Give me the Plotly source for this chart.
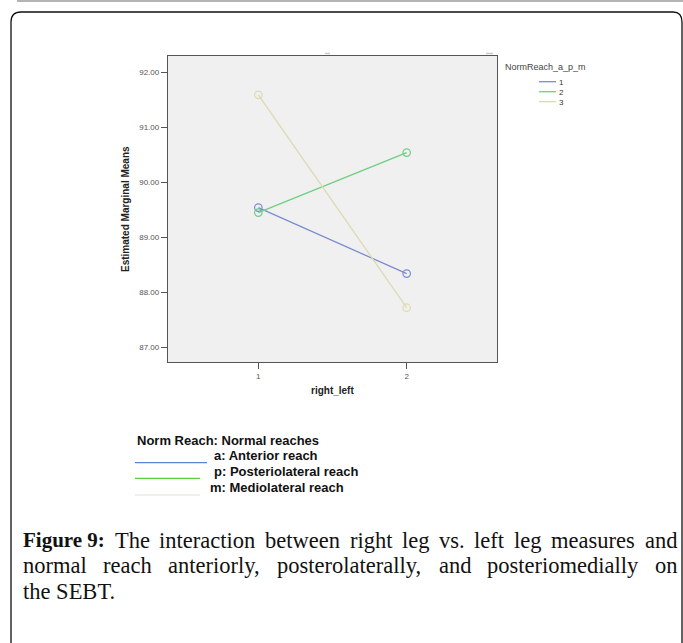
import plotly.graph_objects as go

# ---- data ----
x_levels = [1, 2]
series_names = ["1", "2", "3"]
series_values = [
    [89.54, 88.34],   # 1: anterior
    [89.45, 90.54],   # 2: posterolateral
    [91.59, 87.72],   # 3: mediolateral
]
series_colors = ["#7d8bcf", "#6fcf80", "#dedab2"]
y_ticks = [87, 88, 89, 90, 91, 92]
x_ticks = [1, 2]
legend_title = "NormReach_a_p_m"
note_title = "Norm Reach: Normal reaches"
note_items = ["a: Anterior reach", "p: Posteriolateral reach", "m: Mediolateral reach"]
note_colors = ["#5b84d8", "#5ccf3c", "#e4e0d2"]
caption_label = "Figure 9:"
caption_line1 = "The interaction between right leg vs. left leg measures and"
caption_line2 = "normal reach anteriorly, posterolaterally, and posteriomedially on"
caption_line3 = "the SEBT."

W, H = 683, 643
L, R, T, B = 168, 497, 56, 362  # plot area in px


def px(x):
    return (x - L) / (R - L)


def py(y):
    return (B - y) / (B - T)


# Times/Liberation Serif advance widths (per em) for justification
TIMES_R = {' ': .25, 'a': .444, 'b': .5, 'c': .444, 'd': .5, 'e': .444, 'f': .333, 'g': .5,
           'h': .5, 'i': .278, 'l': .278, 'm': .778, 'n': .5, 'o': .5, 'p': .5, 'r': .333,
           's': .389, 't': .278, 'u': .5, 'v': .5, 'w': .722, 'x': .5, 'y': .5, 'T': .611,
           ',': .25, '.': .25, ':': .278, '9': .5, 'S': .556, 'E': .611, 'B': .667}
TIMES_B = {' ': .25, 'F': .611, 'i': .278, 'g': .5, 'u': .556, 'r': .444, 'e': .444,
           '9': .5, ':': .333}


def text_w(s, size, table):
    return sum(table.get(c, .5) for c in s) * size


fig = go.Figure()
for name, vals, col in zip(series_names, series_values, series_colors):
    fig.add_trace(go.Scatter(
        x=x_levels, y=vals, mode="lines+markers", name=name,
        line=dict(color=col, width=1.3),
        marker=dict(symbol="circle-open", size=7.5, color=col, line=dict(width=1.2)),
        showlegend=False,
    ))

shapes = []
annotations = []

# page decoration: grey rule and rounded box
shapes.append(dict(type="line", xref="paper", yref="paper",
                   x0=px(17), x1=px(683), y0=py(1), y1=py(1),
                   line=dict(color="#b4b4b4", width=2)))
box_path = (f"M {px(11)},{py(660)} L {px(11)},{py(22)} "
            f"Q {px(11)},{py(12)} {px(21)},{py(12)} "
            f"L {px(673)},{py(12)} Q {px(682)},{py(12)} {px(682)},{py(22)} "
            f"L {px(682)},{py(660)}")
shapes.append(dict(type="path", xref="paper", yref="paper", path=box_path,
                   line=dict(color="#111111", width=1.3)))

# small artefacts above the plot frame
for x0, x1 in [(325, 330), (486, 493)]:
    shapes.append(dict(type="line", xref="paper", yref="paper",
                       x0=px(x0), x1=px(x1), y0=py(53.5), y1=py(53.5),
                       line=dict(color="#c8c8c8", width=1.5)))

# upper-right legend
annotations.append(dict(text=legend_title, xref="paper", yref="paper",
                        x=px(503), y=py(66.5), xanchor="left", yanchor="middle",
                        showarrow=False, font=dict(size=9, color="#444444",
                                                   family="Liberation Sans")))
for i, (name, col) in enumerate(zip(series_names, series_colors)):
    yy = 81.7 + i * 10
    shapes.append(dict(type="line", xref="paper", yref="paper",
                       x0=px(539), x1=px(556), y0=py(yy), y1=py(yy),
                       line=dict(color=col, width=1.3)))
    annotations.append(dict(text=name, xref="paper", yref="paper",
                            x=px(556.5), y=py(yy + 0.5), xanchor="left", yanchor="middle",
                            showarrow=False, font=dict(size=8, color="#333333",
                                                       family="Liberation Sans")))

# axis titles
annotations.append(dict(text="<b>Estimated Marginal Means</b>", xref="paper", yref="paper",
                        x=px(125), y=0.5, textangle=-90, xanchor="center", yanchor="middle",
                        showarrow=False, font=dict(size=10, color="#222222",
                                                   family="Liberation Sans")))
annotations.append(dict(text="<b>right_left</b>", xref="paper", yref="paper",
                        x=0.5, y=py(390.5), xanchor="center", yanchor="middle",
                        showarrow=False, font=dict(size=10, color="#222222",
                                                   family="Liberation Sans")))

# lower note legend
note_font = dict(size=13, color="#111111", family="Liberation Sans")
annotations.append(dict(text=f"<b>{note_title}</b>", xref="paper", yref="paper",
                        x=px(135), y=py(440.5), xanchor="left", yanchor="middle",
                        showarrow=False, font=note_font))
note_text_x = [212, 212, 208]
note_text_y = [455.5, 471.5, 488]
note_line_y = [462.7, 478.3, 495]
note_line_x1 = [207, 200, 200]
for i, (txt, col) in enumerate(zip(note_items, note_colors)):
    shapes.append(dict(type="line", xref="paper", yref="paper",
                       x0=px(135), x1=px(note_line_x1[i]), y0=py(note_line_y[i]), y1=py(note_line_y[i]),
                       line=dict(color=col, width=1.2)))
    annotations.append(dict(text=f"<b>{txt}</b>", xref="paper", yref="paper",
                            x=px(note_text_x[i]), y=py(note_text_y[i]), xanchor="left", yanchor="middle",
                            showarrow=False, font=note_font))

# caption: fully justified lines between x=21 and x=675
CAP_L, CAP_R = 21, 675
REG, BOLD = 22.5, 21
cap_reg = dict(size=REG, color="#111111", family="Liberation Serif")
cap_bold = dict(size=BOLD, color="#111111", family="Liberation Serif")


def justify(items, yy):
    # items: list of (text, is_bold)
    widths = [text_w(t, BOLD if b else REG, TIMES_B if b else TIMES_R) for t, b in items]
    gap = (CAP_R - CAP_L - sum(widths)) / (len(items) - 1)
    x = CAP_L
    for (t, b), w in zip(items, widths):
        annotations.append(dict(text=f"<b>{t}</b>" if b else t, xref="paper", yref="paper",
                                x=px(x), y=py(yy), xanchor="left", yanchor="middle",
                                showarrow=False, font=cap_bold if b else cap_reg))
        x += w + gap


justify([(caption_label, True)] + [(w, False) for w in caption_line1.split()], 540)
justify([(w, False) for w in caption_line2.split()], 565.5)
annotations.append(dict(text=caption_line3, xref="paper", yref="paper", x=px(CAP_L), y=py(591.5),
                        xanchor="left", yanchor="middle", showarrow=False, font=cap_reg))

fig.update_layout(
    width=W, height=H,
    margin=dict(l=L, r=W - R, t=T, b=H - B, pad=0),
    paper_bgcolor="white", plot_bgcolor="#f0f0f0",
    shapes=shapes, annotations=annotations,
    font=dict(family="Liberation Sans"),
)
axis_common = dict(showline=True, mirror=True, linecolor="#555555", linewidth=1.3,
                   ticks="outside", ticklen=6, tickcolor="#555555", tickwidth=1,
                   showgrid=False, zeroline=False,
                   tickfont=dict(size=8, color="#555555", family="Liberation Sans"))
fig.update_xaxes(range=[0.391, 2.609], tickvals=x_ticks, ticktext=[str(v) for v in x_ticks],
                 **axis_common)
fig.update_yaxes(range=[86.733, 92.296], tickvals=y_ticks, ticktext=[f"{v:.2f}" for v in y_ticks],
                 **axis_common)

fig.write_html("out.html", config={"displayModeBar": False},
               post_script="document.body.style.margin='0';")
